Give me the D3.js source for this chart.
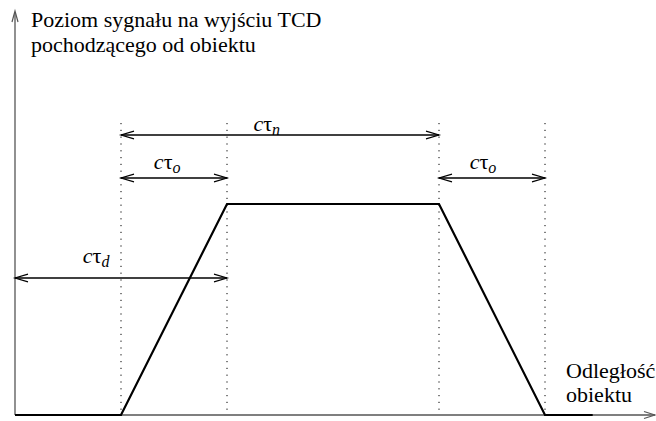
<!DOCTYPE html>
<html>
<head>
<meta charset="utf-8">
<title>Poziom sygnału TCD</title>
<script src="https://cdn.jsdelivr.net/npm/d3@7"></script>
<style>
  body { margin: 0; background: #fff; }
  #chart { display: block; }
  #chart text, #chart tspan { font-family: "Liberation Serif", "Times New Roman", Tinos !important; }
</style>
</head>
<body>
<svg id="chart" width="656" height="421"></svg>
<script>
// Signal profile: distance breakpoints (in units of c·τ_o) and normalised signal level
const distance = [0, 1, 2, 4, 5, 5.45];
const level    = [0, 0, 1, 1, 0, 0];

// Vertical guide lines at the profile's corners
const guides = [1, 2, 4, 5];

// Dimension spans: start, end and subscript of the c·τ label
const spanFrom = [1, 1, 4, 0];
const spanTo   = [4, 2, 5, 2];
const spanSub  = ["n", "o", "o", "d"];

// Axis titles
const yTitle = ["Poziom sygnału na wyjściu TCD", "pochodzącego od obiektu"];
const xTitle = ["Odległość", "obiektu"];

const SERIF = '"Liberation Serif", "Times New Roman", Tinos';

const svg = d3.select("#chart");
const W = 656;

const x = d3.scaleLinear().domain([0, 6]).range([15, 651]);
const y = d3.scaleLinear().domain([0, 1]).range([415, 204]);

const axisColor = "#555";

// Plain axis lines (no ticks)
const axes = svg.append("g").attr("stroke", axisColor).attr("stroke-width", 1.3);
axes.append("line").attr("x1", x(0)).attr("x2", W - 1).attr("y1", y(0)).attr("y2", y(0));
axes.append("line").attr("x1", x(0)).attr("x2", x(0)).attr("y1", y(0)).attr("y2", 12);

// Open arrowhead helper: tip at (tx,ty), pointing along angle (radians)
function arrowHead(g, tx, ty, ang, len, half, color, sw) {
  const bx = tx - len * Math.cos(ang), by = ty - len * Math.sin(ang);
  const nx = -Math.sin(ang) * half, ny = Math.cos(ang) * half;
  g.append("path")
    .attr("d", `M${bx + nx},${by + ny}L${tx},${ty}L${bx - nx},${by - ny}`)
    .attr("fill", "none").attr("stroke", color).attr("stroke-width", sw);
}

arrowHead(svg, W - 1, y(0), 0, 11, 3.5, axisColor, 1.2);
arrowHead(svg, x(0), 11, -Math.PI / 2, 11, 3, axisColor, 1.2);

// Dotted guides
svg.append("g").selectAll("line").data(guides).join("line")
  .attr("x1", d => x(d)).attr("x2", d => x(d))
  .attr("y1", 123).attr("y2", y(0) - 2)
  .attr("stroke", "#000").attr("stroke-width", 1)
  .attr("stroke-dasharray", "1.2,5.6");

// Signal profile
const line = d3.line().x((d, i) => x(distance[i])).y(d => y(d));
svg.append("path").datum(level)
  .attr("d", line)
  .attr("fill", "none").attr("stroke", "#000").attr("stroke-width", 2.2)
  .attr("stroke-linejoin", "miter");

// Dimension arrows: height of each span line and start of its label
const spanY = [135, 178, 178, 278];
const labelX = [2.25, 1.31, 4.29, 0.64];
const labelY = [131, 169, 169, 263];

spanFrom.forEach((f, i) => {
  const x1 = x(f), x2 = x(spanTo[i]), yy = spanY[i];
  svg.append("line").attr("x1", x1).attr("x2", x2).attr("y1", yy).attr("y2", yy)
    .attr("stroke", "#000").attr("stroke-width", 1.3);
  arrowHead(svg, x1, yy, Math.PI, 13, 3.8, "#000", 1.2);
  arrowHead(svg, x2, yy, 0, 13, 3.8, "#000", 1.2);
});

// c·τ labels, one per span
svg.selectAll("text.dim").data(spanSub).join("text")
  .attr("class", "dim")
  .attr("x", (d, i) => x(labelX[i])).attr("y", (d, i) => labelY[i])
  .attr("font-family", SERIF)
  .style("font-size", "22px")
  .each(function (d) {
    const t = d3.select(this);
    t.append("tspan").style("font-style", "italic").text("c");
    t.append("tspan").text("τ");
    t.append("tspan").style("font-style", "italic").style("font-size", "16px").attr("dy", 4).text(d);
  });

// Axis titles
svg.selectAll("text.ytitle").data(yTitle).join("text")
  .attr("class", "ytitle")
  .attr("x", 31).attr("y", (d, i) => 27 + i * 25)
  .attr("font-family", SERIF)
  .style("font-size", "22px")
  .text(d => d);

svg.selectAll("text.xtitle").data(xTitle).join("text")
  .attr("class", "xtitle")
  .attr("x", 566).attr("y", (d, i) => 378 + i * 24)
  .attr("font-family", SERIF)
  .style("font-size", "22px")
  .text(d => d);
</script>
</body>
</html>
